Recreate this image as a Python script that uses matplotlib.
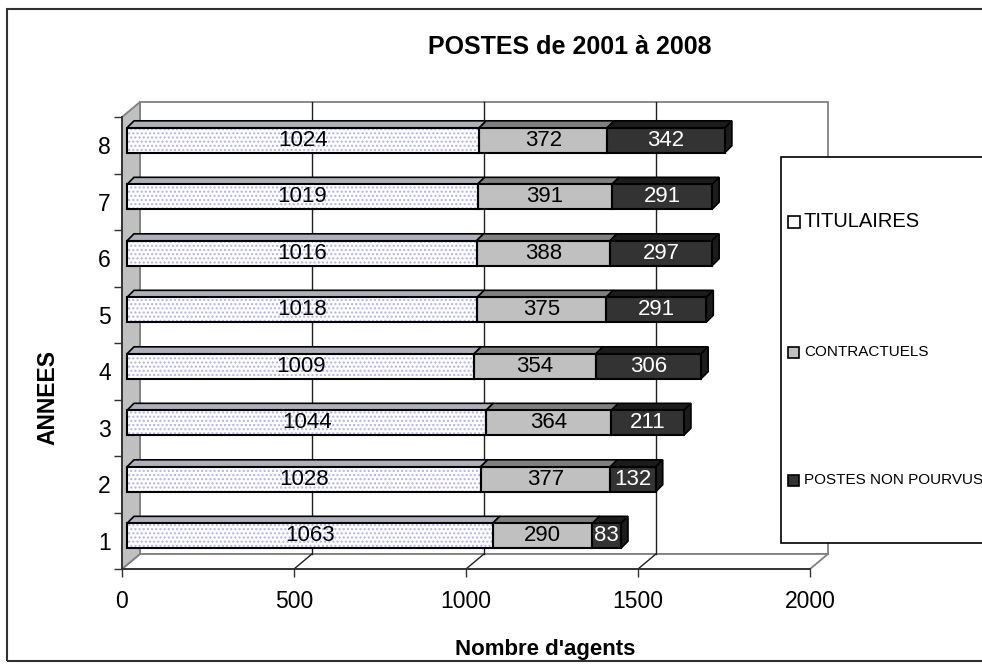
import numpy as np
import matplotlib.pyplot as plt
from matplotlib.patches import Polygon, Rectangle

plt.rcParams['font.family'] = ['Liberation Sans', 'DejaVu Sans']

annees = [1, 2, 3, 4, 5, 6, 7, 8]
titulaires = [1063, 1028, 1044, 1009, 1018, 1016, 1019, 1024]
contractuels = [290, 377, 364, 354, 375, 388, 391, 372]
non_pourvus = [83, 132, 211, 306, 291, 297, 291, 342]
series = ["TITULAIRES", "CONTRACTUELS", "POSTES NON POURVUS"]
xticks = [0, 500, 1000, 1500, 2000]

W, H = 982, 667
fig = plt.figure(figsize=(W / 100, H / 100), dpi=100)

# front plane of the pseudo 3d box, in pixels
x0p, x1p, y0p, y1p = 122, 810, 569, 117
ax = fig.add_axes([x0p / W, 1 - y0p / H, (x1p - x0p) / W, (y0p - y1p) / H])
ax.set_xlim(0, 2000)
ax.set_ylim(0.5, 8.5)
ax.set_facecolor('none')

ux = 2000 / (x1p - x0p)   # data units per pixel
uy = 8 / (y0p - y1p)


def sh(x, y, dx, dy):
    return (x + dx * ux, y + dy * uy)


# depth of the box and of the bars, in pixels
DX, DY = 18, 15
BF, BD = 5, 7
grey = '#808080'

# back wall
ax.add_patch(Polygon([sh(0, 0.5, DX, DY), sh(2000, 0.5, DX, DY),
                      sh(2000, 8.5, DX, DY), sh(0, 8.5, DX, DY)],
                     closed=True, fc='white', ec=grey, lw=1.3, clip_on=False, zorder=0.5))
# floor
ax.add_patch(Polygon([(0, 0.5), (2000, 0.5), sh(2000, 0.5, DX, DY), sh(0, 0.5, DX, DY)],
                     closed=True, fc='white', ec=grey, lw=1.3, clip_on=False, zorder=0.6))
# left wall
ax.add_patch(Polygon([(0, 0.5), sh(0, 0.5, DX, DY), sh(0, 8.5, DX, DY), (0, 8.5)],
                     closed=True, fc='#c0c0c0', ec=grey, lw=1.3, clip_on=False, zorder=0.7))
# grid lines on back wall and floor
for v in xticks[1:-1]:
    bx, by0 = sh(v, 0.5, DX, DY)
    _, by1 = sh(v, 8.5, DX, DY)
    ax.plot([bx, bx], [by0, by1], color='#202020', lw=1, clip_on=False, zorder=0.8)
    ax.plot([v, bx], [0.5, by0], color='#202020', lw=1, clip_on=False, zorder=0.8)

h = 0.44
fronts = ['white', '#c0c0c0', '#333333']
tops = ['#b0b0b8', '#808080', '#1c1c1c']
txtcol = ['black', 'black', 'white']
vals = [titulaires, contractuels, non_pourvus]

left = np.zeros(len(annees))
for k, v in enumerate(vals):
    v = np.array(v)
    yc = np.array(annees) + BF * uy
    lf = left + BF * ux
    if k == 0:
        ax.barh(yc, v, height=h, left=lf, color='white', hatch='....',
                edgecolor='#b0b0f0', lw=0, zorder=3)
        ax.barh(yc, v, height=h, left=lf, fill=False, edgecolor='black', lw=1.5, zorder=3.2)
    else:
        ax.barh(yc, v, height=h, left=lf, color=fronts[k], edgecolor='black', lw=1.5, zorder=3)
    for i in range(len(annees)):
        xa, xb = lf[i], lf[i] + v[i]
        yt = yc[i] + h / 2
        ax.add_patch(Polygon([(xa, yt), (xb, yt), sh(xb, yt, BD, BD), sh(xa, yt, BD, BD)],
                             closed=True, fc=tops[k], ec='black', lw=1.2, zorder=2.9))
        if k == len(vals) - 1:
            yb = yc[i] - h / 2
            ax.add_patch(Polygon([(xb, yb), (xb, yt), sh(xb, yt, BD, BD), sh(xb, yb, BD, BD)],
                                 closed=True, fc='#1c1c1c', ec='black', lw=1.2, zorder=2.9))
        ax.text((xa + xb) / 2, yc[i], str(v[i]), ha='center', va='center',
                fontsize=16, color=txtcol[k], zorder=4)
    left = left + v

for s in ['top', 'right']:
    ax.spines[s].set_visible(False)
for s in ['left', 'bottom']:
    ax.spines[s].set_color('#303030')
    ax.spines[s].set_linewidth(1.3)

ax.set_xticks(xticks)
ax.set_xticklabels([str(t) for t in xticks], fontsize=16.5)
ax.tick_params(axis='x', direction='out', length=6, width=1, colors='#303030',
               labelcolor='black', pad=9)
ax.set_yticks(annees)
ax.set_yticklabels([str(a) for a in annees], fontsize=16.5)
ax.tick_params(axis='y', which='major', length=0, pad=8)
ax.set_yticks(np.arange(0.5, 9, 1), minor=True)
ax.tick_params(axis='y', which='minor', direction='out', length=6, width=1, colors='#303030')


def fx(px):
    return px / W


def fy(py):
    return 1 - py / H


fig.text(fx(570), fy(47), "POSTES de 2001 à 2008", ha='center', va='center',
         fontsize=18, fontweight='bold')
fig.text(fx(48), fy(398), "ANNEES", ha='center', va='center', rotation=90,
         fontsize=16.5, fontweight='bold')
fig.text(fx(545), fy(649), "Nombre d'agents", ha='center', va='center',
         fontsize=16, fontweight='bold')

# outer frame (right side runs off the picture)
fig.patches.append(Rectangle((fx(7), fy(661)), fx(1030) - fx(7), fy(9) - fy(661),
                             transform=fig.transFigure, fill=False, ec='#303030', lw=1.5))
# legend box (also runs off the right edge)
fig.patches.append(Rectangle((fx(781), fy(543)), fx(1030) - fx(781), fy(157) - fy(543),
                             transform=fig.transFigure, fc='white', ec='black', lw=1.2, zorder=5))
leg_y = [222, 352, 480]
leg_fs = [14.5, 11, 11]
leg_sz = [12, 11, 11]
leg_fc = ['white', '#c0c0c0', '#333333']
for lab, yy, fs, sz, c in zip(series, leg_y, leg_fs, leg_sz, leg_fc):
    fig.patches.append(Rectangle((fx(788), fy(yy + sz / 2)), fx(sz), sz / H,
                                 transform=fig.transFigure, fc=c, ec='black', lw=1.2, zorder=6))
    fig.text(fx(804), fy(yy), lab, ha='left', va='center', fontsize=fs, zorder=7)

fig.savefig('out.png', dpi=100)
